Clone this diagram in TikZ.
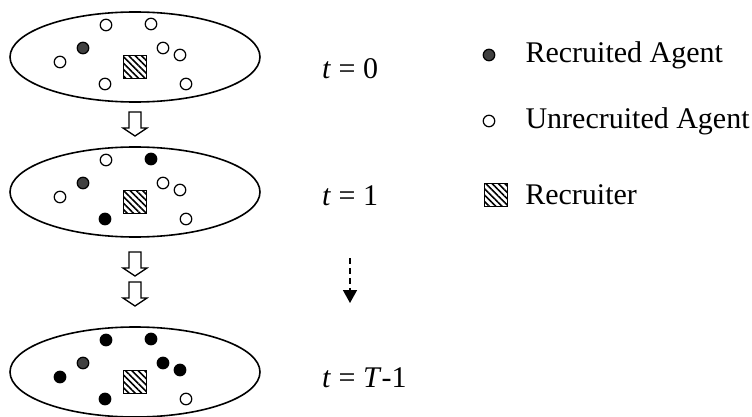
\documentclass[tikz,border=0pt]{standalone}
\usepackage{fontspec}
\setmainfont{Liberation Serif}
\usetikzlibrary{arrows.meta,positioning,shapes.geometric,patterns.meta}
\definecolor{recgray}{HTML}{404040}
\tikzset{
  stage/.style={draw, ellipse, line width=1.6pt, minimum width=250pt,
                minimum height=90pt, inner sep=0pt},
  agent/.style={draw, circle, line width=1.2pt, minimum size=11.5pt, inner sep=0pt},
  freeagent/.style={agent, fill=white},
  oldagent/.style={agent, fill=recgray},
  newagent/.style={agent, fill=black},
  recruiter/.style={draw, line width=1.2pt, minimum size=23pt, inner sep=0pt,
                    pattern={Lines[angle=-45,distance=4.5pt,line width=1.6pt]}},
  lbl/.style={font=\fontsize{30}{35}\selectfont, anchor=west, inner sep=0pt},
  pics/flowarrow/.style={code={
    \draw[line width=1.3pt, line join=miter, fill=white]
      (-6,0) -- (6,0) -- (6,16) -- (12,16) -- (0,24) -- (-12,16) -- (-6,16) -- cycle;}}
}

\begin{document}
\begin{tikzpicture}[x=1pt,y=-1pt]
  \useasboundingbox (0,0) rectangle (752,417);
  % the three stages
  \node[stage] (s0) at (135,57) {};
  \node[stage] (s1) at (135,192) {};
  \node[stage] (s2) at (135,372) {};
  \foreach \s in {0,1,2}
    \node[recruiter] (r\s) at ([shift={(0,10)}]s\s) {};
  \foreach \dx/\dy/\k [count=\i] in {-29/-32/freeagent, 16/-33/freeagent,
      -52/-9/oldagent, 28/-9/freeagent, 45/-2/freeagent, -75/5/freeagent,
      -30/27/freeagent, 51/27/freeagent}
    \node[\k] (a0\i) at ([shift={(\dx,\dy)}]s0) {};
  \foreach \dx/\dy/\k [count=\i] in {-29/-32/freeagent, 16/-33/newagent,
      -52/-9/oldagent, 28/-9/freeagent, 45/-2/freeagent, -75/5/freeagent,
      -30/27/newagent, 51/27/freeagent}
    \node[\k] (a1\i) at ([shift={(\dx,\dy)}]s1) {};
  \foreach \dx/\dy/\k [count=\i] in {-29/-32/newagent, 16/-33/newagent,
      -52/-9/oldagent, 28/-9/newagent, 45/-2/newagent, -75/5/newagent,
      -30/27/newagent, 51/27/freeagent}
    \node[\k] (a2\i) at ([shift={(\dx,\dy)}]s2) {};
  % steps between stages
  \pic at (135,112) {flowarrow};
  \pic at (135,252) {flowarrow};
  \pic at (135,282) {flowarrow};
  % time labels
  \node[lbl] (t0) at (322,69) {\textit{t} = 0};
  \node[lbl] (t1) at (322,196) {\textit{t} = 1};
  \node[lbl] (t2) at (322,378) {\textit{t} = \textit{T}-1};
  \coordinate (d0) at (350,258);
  \coordinate (d1) at (350,303);
  \draw[dash pattern=on 6pt off 4pt, line width=1.6pt,
        -{Triangle[length=13pt,width=14pt]}] (d0) -- (d1);
  % legend
  \node[oldagent] (k0) at (489,55) {};
  \node[freeagent] (k1) at (489,121) {};
  \node[recruiter] (k2) at (496,195) {};
  \node[lbl, right=30pt of k0] (k0txt) {Recruited Agent};
  \node[lbl, right=30pt of k1] (k1txt) {Unrecruited Agent};
  \node[lbl, right=17pt of k2] (k2txt) {Recruiter};
\end{tikzpicture}
\end{document}
